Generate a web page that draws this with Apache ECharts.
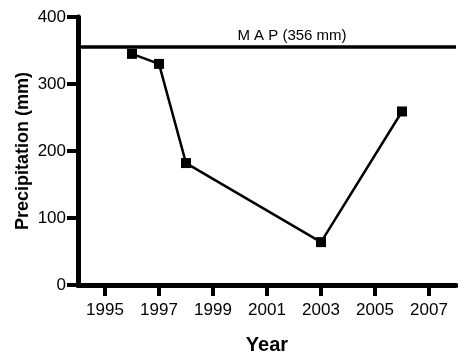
<!DOCTYPE html>
<html>
<head>
<meta charset="utf-8">
<script src="https://cdn.jsdelivr.net/npm/echarts@6/dist/echarts.min.js"></script>
<style>
html, body { margin: 0; padding: 0; background: #fff; }
#chart { width: 458px; height: 355px; }
</style>
</head>
<body>
<div id="chart"></div>
<script>
// 年降水量数据
var years = [1996, 1997, 1998, 2003, 2006];
var precip = [345, 330, 182, 64, 259];
var mapValue = 356; // 多年平均降水量
var yearTicks = [1995, 1997, 1999, 2001, 2003, 2005, 2007];
var precipTicks = [0, 100, 200, 300, 400];

var points = [];
for (var i = 0; i < years.length; i++) {
	points.push([years[i], precip[i]]);
}

var myChart = echarts.init(document.getElementById('chart'));
var font = 'Liberation Sans, Arial, sans-serif';
var option = {
	animation: false,
	grid: { left: 78, right: 2, top: 17, bottom: 70, outerBoundsMode: 'none' },
	xAxis: {
		type: 'value',
		min: 1994,
		max: 2008,
		name: 'Year',
		nameLocation: 'middle',
		nameGap: 50,
		nameMoveOverlap: false,
		nameTextStyle: { fontFamily: font, fontWeight: 'bold', fontSize: 20, color: '#000' },
		axisLine: { show: true, lineStyle: { color: '#000', width: 5 } },
		axisTick: { show: true, length: 11, customValues: yearTicks, lineStyle: { color: '#000', width: 4 } },
		axisLabel: { customValues: yearTicks, margin: 17, fontFamily: font, fontSize: 17, color: '#000',
			formatter: function(v) { return String(v); } },
		splitLine: { show: false }
	},
	yAxis: {
		type: 'value',
		min: 0,
		max: 400,
		interval: 100,
		name: 'Precipitation (mm)',
		nameLocation: 'middle',
		nameGap: 46,
		nameMoveOverlap: false,
		nameTextStyle: { fontFamily: font, fontWeight: 'bold', fontSize: 18, color: '#000' },
		axisLine: { show: true, lineStyle: { color: '#000', width: 5 } },
		axisTick: { show: true, length: 11, lineStyle: { color: '#000', width: 4 } },
		axisLabel: { margin: 12, fontFamily: font, fontSize: 17, color: '#000',
			formatter: function(v) { return precipTicks.indexOf(v) >= 0 ? String(v) : ''; } },
		splitLine: { show: false }
	},
	series: [{
		type: 'line',
		data: points,
		symbol: 'rect',
		symbolSize: 10,
		lineStyle: { color: '#000', width: 2.5 },
		itemStyle: { color: '#000' },
		markLine: {
			silent: true,
			symbol: 'none',
			lineStyle: { color: '#000', width: 3.5, type: 'solid' },
			label: {
				show: true,
				position: 'insideMiddleTop',
				offset: [25, 0],
				distance: 3,
				fontFamily: font,
				fontSize: 15,
				color: '#000',
				formatter: 'M A P (356 mm)'
			},
			data: [{ yAxis: mapValue }]
		}
	}]
};
myChart.setOption(option);
</script>
</body>
</html>
